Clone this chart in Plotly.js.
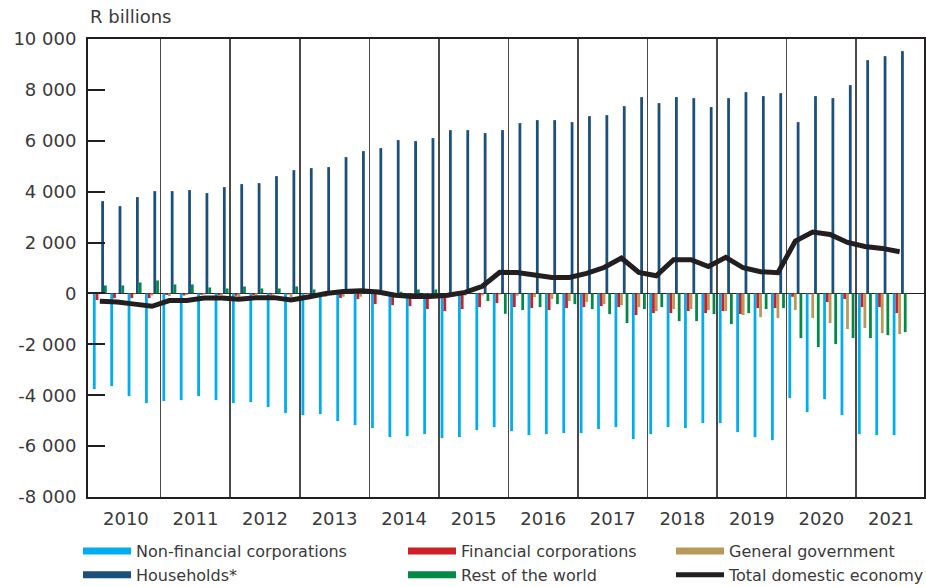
<!DOCTYPE html>
<html>
<head>
<meta charset="utf-8">
<script src="https://cdn.plot.ly/plotly-3.0.1.min.js"></script>
<style>
  html, body { margin: 0; padding: 0; background: #ffffff; }
  #chart { width: 926px; height: 587px; }
</style>
</head>
<body>
<div id="chart"></div>
<script>
// Quarterly data, 2010Q1 - 2021Q3 (R billions)
const years = ['2010','2011','2012','2013','2014','2015','2016','2017','2018','2019','2020','2021'];

const nonFinancialCorporations = [
  -3760, -3642, -4035, -4310,
  -4231, -4192, -4035, -4192,
  -4310, -4271, -4467, -4703,
  -4782, -4742, -5017, -5175,
  -5292, -5646, -5607, -5528,
  -5685, -5646, -5371, -5253,
  -5410, -5568, -5528, -5489,
  -5489, -5332, -5253, -5725,
  -5528, -5253, -5292, -5096,
  -5096, -5450, -5646, -5764,
  -4113, -4664, -4153, -4782,
  -5528, -5568, -5568
];

const financialCorporations = [
  -262, -184, -184, -184,
  -60, -80, -50, -60,
  -90, -60, -50, -40,
  -30, -60, -183, -223,
  -420, -460, -500, -615,
  -695, -615, -537, -380,
  -537, -576, -655, -576,
  -537, -498, -537, -850,
  -773, -773, -694, -773,
  -694, -812, -576, -576,
  -130, -30, -340, -220,
  -537, -537, -773
];

const generalGovernment = [
  -20, -20, -30, -80,
  -105, -60, -40, -70,
  -130, -50, -40, -157,
  -40, -130, -130, -130,
  -30, -40, -40, -50,
  -40, -80, -80, -40,
  -90, -145, -220, -300,
  -340, -420, -460, -537,
  -694, -615, -615, -655,
  -694, -850, -930, -970,
  -655, -970, -1166, -1400,
  -1360, -1560, -1600
];

const households = [
  3629, 3432, 3786, 4022,
  4022, 4061, 3943, 4179,
  4297, 4336, 4611, 4847,
  4926, 4965, 5358, 5594,
  5712, 6026, 5987, 6105,
  6419, 6419, 6301, 6419,
  6694, 6812, 6812, 6733,
  6969, 7008, 7362, 7716,
  7480, 7716, 7677, 7323,
  7677, 7912, 7755, 7873,
  6733, 7755, 7677, 8188,
  9170, 9327, 9524
];

const restOfTheWorld = [
  314, 314, 432, 511,
  354, 354, 236, 196,
  275, 196, 196, 275,
  157, 30, 30, 30,
  30, 65, 157, 157,
  20, 20, -300, -800,
  -655, -537, -420, -420,
  -615, -812, -1166, -615,
  -537, -1087, -1087, -812,
  -1205, -773, -615, -576,
  -1755, -2110, -1990, -1755,
  -1755, -1640, -1520
];

const totalDomesticEconomy = [
  -310, -340, -420, -505,
  -280, -275, -180, -175,
  -230, -165, -165, -255,
  -140, 0, 80, 110,
  60, -70, -120, -120,
  -70, 40, 280, 830,
  825, 735, 630, 630,
  786, 1020, 1390, 825,
  695, 1323, 1323, 1060,
  1420, 1009, 852, 812,
  2057, 2410, 2320, 2005,
  1847, 1770, 1640
];

const yTickVals = [-8000, -6000, -4000, -2000, 0, 2000, 4000, 6000, 8000, 10000];
const yTickText = ['-8 000', '-6 000', '-4 000', '-2 000', '0', '2 000', '4 000', '6 000', '8 000', '10 000'];

const seriesNames = ['Non-financial corporations', 'Financial corporations', 'General government', 'Households*', 'Rest of the world', 'Total domestic economy'];
const colors = {
  nfc: '#00aeef',
  fc: '#cc1f26',
  gg: '#b8995a',
  hh: '#1b4f7c',
  row: '#008a45',
  total: '#231f20'
};

const xq = households.map((_, i) => i);
const yearCenters = years.map((_, k) => 4 * k + 1.5);
const yearSeparators = years.slice(1).map((_, k) => 4 * (k + 1) - 0.5);

function legendEntry(name, color, legendId) {
  return {
    type: 'scatter', mode: 'lines', x: [null], y: [null], name: name,
    line: { color: color, width: 7 }, legend: legendId, hoverinfo: 'skip'
  };
}
function barTrace(name, values, color) {
  return {
    type: 'bar', x: xq, y: values, name: name, marker: { color: color, line: { width: 0 } },
    showlegend: false
  };
}

const data = [
  legendEntry(seriesNames[0], colors.nfc, 'legend'),
  legendEntry(seriesNames[3], colors.hh, 'legend'),
  legendEntry(seriesNames[1], colors.fc, 'legend2'),
  legendEntry(seriesNames[4], colors.row, 'legend2'),
  legendEntry(seriesNames[2], colors.gg, 'legend3'),
  barTrace(seriesNames[0], nonFinancialCorporations, colors.nfc),
  barTrace(seriesNames[1], financialCorporations, colors.fc),
  barTrace(seriesNames[2], generalGovernment, colors.gg),
  barTrace(seriesNames[3], households, colors.hh),
  barTrace(seriesNames[4], restOfTheWorld, colors.row),
  {
    type: 'scatter', mode: 'lines', x: xq, y: totalDomesticEconomy, name: seriesNames[5],
    line: { color: colors.total, width: 5 }, legend: 'legend3'
  }
];

const textColor = '#3a3a3a';
const fontFamily = 'DejaVu Sans, Liberation Sans, Arial, sans-serif';
const legendCommon = {
  orientation: 'v', xref: 'container', yref: 'container',
  xanchor: 'left', yanchor: 'top', y: 1 - 534 / 587,
  font: { family: fontFamily, size: 16, color: textColor },
  itemwidth: 48, tracegroupgap: 0, bgcolor: 'rgba(0,0,0,0)', borderwidth: 0,
  itemclick: false, itemdoubleclick: false
};

const layout = {
  width: 926, height: 587,
  margin: { l: 88, r: 2, t: 39, b: 90, autoexpand: false },
  paper_bgcolor: '#ffffff', plot_bgcolor: '#ffffff',
  font: { family: fontFamily, color: textColor, size: 18 },
  title: {
    text: 'R billions', xref: 'container', x: 90 / 926, xanchor: 'left',
    yref: 'container', y: 1 - 17 / 587, yanchor: 'middle',
    font: { family: fontFamily, size: 18, color: textColor }
  },
  barmode: 'group', bargap: 0.2, bargroupgap: 0,
  showlegend: true,
  legend: Object.assign({}, legendCommon, { x: 78 / 926 }),
  legend2: Object.assign({}, legendCommon, { x: 403 / 926 }),
  legend3: Object.assign({}, legendCommon, { x: 671 / 926 }),
  xaxis: {
    range: [-0.68, 47.4],
    tickmode: 'array', tickvals: yearCenters, ticktext: years,
    ticks: '', showgrid: false, zeroline: false,
    showline: true, mirror: true, linecolor: '#231f20', linewidth: 2,
    tickfont: { family: fontFamily, size: 18, color: textColor },
    ticklabelstandoff: 4,
    minor: { tickmode: 'array', tickvals: yearSeparators, showgrid: true, gridcolor: '#4a4a4a', gridwidth: 1.6, ticks: '' },
    fixedrange: true
  },
  yaxis: {
    range: [-8000, 10000],
    tickmode: 'array', tickvals: yTickVals, ticktext: yTickText,
    ticks: 'inside', ticklen: 17, tickwidth: 2, tickcolor: '#231f20',
    showgrid: false, zeroline: true, zerolinecolor: '#231f20', zerolinewidth: 1.5,
    showline: true, mirror: true, linecolor: '#231f20', linewidth: 2,
    tickfont: { family: fontFamily, size: 18, color: textColor },
    ticklabelstandoff: 6,
    fixedrange: true
  }
};

Plotly.newPlot('chart', data, layout, { displayModeBar: false, staticPlot: true });
</script>
</body>
</html>
